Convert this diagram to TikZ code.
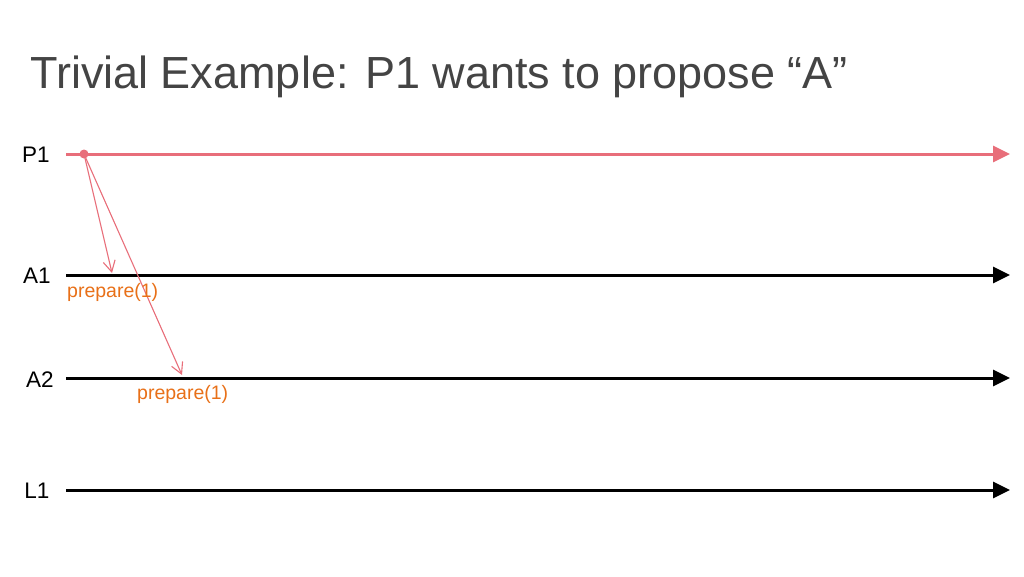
\documentclass[tikz,border=0pt]{standalone}
\usepackage{fontspec}
\setmainfont{Liberation Sans}
\usetikzlibrary{arrows.meta}
\usetikzlibrary{positioning}
\definecolor{proposer}{RGB}{232,110,122}
\definecolor{msgtext}{RGB}{232,112,24}
\definecolor{titlegray}{RGB}{68,68,68}
\tikzstyle{timeline} = [
    draw=black,
    line width=3pt,
    -{Triangle[length=17pt,width=16pt]}
]
\tikzstyle{plabel} = [
    font=\fontsize{22.5}{27}\selectfont,
    anchor=center
]
\tikzstyle{msg}   = [
    draw=proposer,
    line width=1.1pt,
    -{Straight Barb[length=11pt,width=12pt]}
]
\tikzstyle{msglabel} = [
    font=\fontsize{19.5}{23}\selectfont,
    text=msgtext,
    inner sep=0pt
]

\begin{document}
\begin{tikzpicture}[x=1pt, y=-1pt]

\useasboundingbox (0,0) rectangle (1024,576);

\node[anchor=base west, inner sep=0pt, text=titlegray,
      font=\fontsize{45}{54}\selectfont] (title) at (30,88)
{Trivial Example: P1 wants to propose “A”};

\node[plabel] (lp1) at (36,155) {P1};
\node[plabel] (la1) at (37,276) {A1};
\node[plabel] (la2) at (40,380) {A2};
\node[plabel] (ll1) at (37,491) {L1};

\coordinate (p1s) at (66,154);
\coordinate (p1e) at (1010,154);
\coordinate (a1s) at (66,275);
\coordinate (a1e) at (1010,275);
\coordinate (a2s) at (66,378);
\coordinate (a2e) at (1010,378);
\coordinate (l1s) at (66,490);
\coordinate (l1e) at (1010,490);

\draw[timeline, draw=proposer] (p1s) to (p1e);
\draw[timeline] (a1s) to (a1e);
\draw[timeline] (a2s) to (a2e);
\draw[timeline] (l1s) to (l1e);

\node[circle, fill=proposer, inner sep=0pt, minimum size=9pt] (send) at (84,154) {};

\coordinate (ra1) at (112,273);
\coordinate (ra2) at (182,375);

\draw[msg] (send.center) to (ra1);
\draw[msg] (send.center) to (ra2);

\node[msglabel, anchor=west] (prep1) at (67,292) {prepare(1)};
\node[msglabel, anchor=west] (prep2) at (137,394) {prepare(1)};

\end{tikzpicture}
\end{document}
